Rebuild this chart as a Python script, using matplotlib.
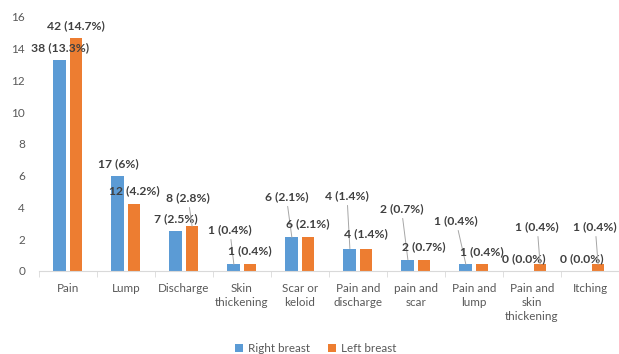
import numpy as np
import matplotlib.pyplot as plt

plt.rcParams['font.family'] = ['Lato', 'DejaVu Sans']

categories = ['Pain', 'Lump', 'Discharge', 'Skin\nthickening', 'Scar or\nkeloid',
              'Pain and\ndischarge', 'pain and\nscar', 'Pain and\nlump',
              'Pain and\nskin\nthickening', 'Itching']
right_pct = [13.3, 6.0, 2.5, 0.4, 2.1, 1.4, 0.7, 0.4, 0.0, 0.0]
left_pct = [14.7, 4.2, 2.8, 0.4, 2.1, 1.4, 0.7, 0.4, 0.4, 0.4]
right_labels = ['38 (13.3%)', '17 (6%)', '7 (2.5%)', '1 (0.4%)', '6 (2.1%)',
                '4 (1.4%)', '2 (0.7%)', '1 (0.4%)', '0 (0.0%)', '0 (0.0%)']
left_labels = ['42 (14.7%)', '12 (4.2%)', '8 (2.8%)', '1 (0.4%)', '6 (2.1%)',
               '4 (1.4%)', '2 (0.7%)', '1 (0.4%)', '1 (0.4%)', '1 (0.4%)']

# label placement (x offset in category units, y in data units) and leader flags
right_pos = [(0.0, 14.05), (0.0, 6.75), (0.0, 3.28), (-0.07, 2.58), (-0.095, 4.67),
             (-0.05, 4.73), (-0.11, 3.91), (-0.17, 3.15), (0.0, 0.76), (0.0, 0.76)]
left_pos = [(0.0, 15.45), (0.0, 5.04), (-0.07, 4.6), (0.0, 1.26), (0.0, 2.96),
            (0.0, 2.33), (0.0, 1.51), (0.0, 1.2), (-0.05, 2.77), (-0.05, 2.77)]
right_leader = [False, False, False, True, True, True, True, True, False, False]
left_leader = [False, False, True, False, False, False, False, False, True, True]

blue = '#5b9bd5'
orange = '#ed7d31'
txt = '#404040'
grey = '#595959'

fig, ax = plt.subplots(figsize=(6.19, 3.54), dpi=100)
fig.subplots_adjust(left=0.063, right=1.0, top=0.952, bottom=0.235)

x = np.arange(len(categories))
off = 0.14
w = 0.22
ax.bar(x - off, right_pct, w, color=blue, label='Right breast')
ax.bar(x + off, left_pct, w, color=orange, label='Left breast')

def add_labels(xs, vals, labels, pos, leader):
    for xi, v, lab, (dx, ty), ld in zip(xs, vals, labels, pos, leader):
        ap = dict(arrowstyle='-', color='#a6a6a6', lw=0.7, shrinkA=1, shrinkB=0) if ld else None
        ax.annotate(lab, xy=(xi, v), xytext=(xi + dx, ty), ha='center', va='center',
                    fontsize=8.7, fontweight='bold', color=txt, arrowprops=ap)

add_labels(x - off, right_pct, right_labels, right_pos, right_leader)
add_labels(x + off, left_pct, left_labels, left_pos, left_leader)

ax.set_xlim(-0.5, len(categories) - 0.5)
ax.set_ylim(0, 16)
ax.set_yticks(range(0, 17, 2))
ax.set_xticks(x)
ax.set_xticklabels(categories, fontsize=8.4, color=grey, linespacing=1.3)
ax.tick_params(axis='x', length=0, pad=9)
ax.set_xticks(np.arange(-0.5, len(categories), 1), minor=True)
ax.tick_params(axis='x', which='minor', length=4, color='#d9d9d9')
ax.tick_params(axis='y', length=0, labelsize=8.5, labelcolor=grey, pad=10)
for s in ['top', 'right', 'left']:
    ax.spines[s].set_visible(False)
ax.spines['bottom'].set_color('#d9d9d9')

fig.legend(loc='center', bbox_to_anchor=(0.51, 0.016), ncol=2, frameon=False,
           fontsize=8.4, labelcolor=grey, handlelength=0.65, handleheight=0.65,
           columnspacing=1.6, handletextpad=0.4)

fig.savefig('out.png', dpi=100)
